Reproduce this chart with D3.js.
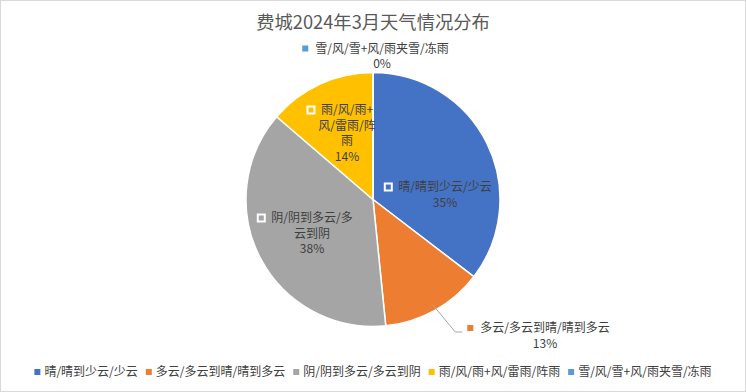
<!DOCTYPE html>
<html><head><meta charset="utf-8">
<script src="https://cdn.jsdelivr.net/npm/d3@7"></script>
<style>
html,body{margin:0;padding:0;background:#fff;}
svg{display:block;font-family:"Microsoft YaHei","Noto Sans CJK SC",sans-serif;}
</style></head>
<body>
<svg id="c" width="746" height="392"></svg>
<script>
const title = "费城2024年3月天气情况分布";
const categories = ["晴/晴到少云/少云","多云/多云到晴/晴到多云","阴/阴到多云/多云到阴","雨/风/雨+风/雷雨/阵雨","雪/风/雪+风/雨夹雪/冻雨"];
const values = [35.4, 13.0, 37.9, 13.7, 0];
const colors = ["#4472C4","#ED7D31","#A5A5A5","#FFC000","#5B9BD5"];
// label text lines (wrapped as in the original)
const labelLines = [["晴/晴到少云/少云"],["多云/多云到晴/晴到多云"],["阴/阴到多云/多","云到阴"],["雨/风/雨+","风/雷雨/阵","雨"],["雪/风/雪+风/雨夹雪/冻雨"]];

const svg = d3.select("#c");
const W = 746, H = 392;
svg.append("rect").attr("x",0.5).attr("y",0.5).attr("width",W-1).attr("height",H-1)
  .attr("fill","#fff").attr("stroke","#d9d9d9");

svg.append("text").attr("x",373).attr("y",28.5).attr("text-anchor","middle")
  .attr("font-size",18.3).attr("fill","#595959").text(title);

const cx = 373, cy = 199.5, R = 127;
const g = svg.append("g").attr("transform",`translate(${cx},${cy})`);
const pie = d3.pie().sort(null).value(d=>d)(values);
const arc = d3.arc().innerRadius(0).outerRadius(R);
g.selectAll("path").data(pie).join("path")
  .attr("d",arc).attr("fill",(d,i)=>colors[i])
  .attr("stroke","#fff").attr("stroke-width",1.5).attr("stroke-linejoin","round");

const total = d3.sum(values);
const pct = v => Math.round(v/total*100)+"%";
const fs = 12, lh = 15.5, txtColor = "#404040";

// label anchor: center of first line (relative to pie center)
const layout = [
  {x:72, y:-12.5, inside:true},
  {x:172, y:128.5, inside:false},
  {x:-61, y:18.5, inside:true},
  {x:-26, y:-89.5, inside:true},
  {x:9, y:-151, inside:false}
];

pie.forEach((d,i)=>{
  const L = layout[i];
  const lg = g.append("g");
  const lines = labelLines[i];
  lines.forEach((t,k)=>{
    lg.append("text").attr("x",L.x).attr("y",L.y + k*lh).attr("dy","0.35em")
      .attr("text-anchor","middle").attr("font-size",fs).attr("fill",txtColor).text(t);
  });
  lg.append("text").attr("x",L.x).attr("y",L.y + lines.length*lh).attr("dy","0.35em")
    .attr("text-anchor","middle").attr("font-size",fs).attr("fill",txtColor).text(pct(values[i]));
  const w0 = lg.select("text").node().getComputedTextLength();
  const mx = L.x - w0/2 - 10;
  if (L.inside) {
    lg.append("rect").attr("x",mx-3.5).attr("y",L.y-3.5).attr("width",7).attr("height",7)
      .attr("fill",colors[i]).attr("stroke","#fff").attr("stroke-width",2);
  } else {
    lg.append("rect").attr("x",mx-3).attr("y",L.y-3).attr("width",6).attr("height",6)
      .attr("fill",colors[i]);
  }
  if (i === 1) {
    const p0 = d3.arc().innerRadius(R*0.95).outerRadius(R*0.95).centroid(d);
    const ex = mx - 8;
    g.append("polyline")
      .attr("points",[[p0[0]+1,p0[1]],[ex-7,L.y+4],[ex,L.y+4]].map(p=>p.join(",")).join(" "))
      .attr("fill","none").attr("stroke","#A6A6A6").attr("stroke-width",1);
  }
});

// bottom legend
const leg = svg.append("g");
const items = leg.selectAll("g").data(categories).join("g");
items.each(function(c,i){
  const it = d3.select(this);
  it.append("rect").attr("x",0).attr("y",-3).attr("width",6).attr("height",6).attr("fill",colors[i]);
  it.append("text").attr("x",10).attr("y",0).attr("dy","0.35em").attr("font-size",fs)
    .attr("fill",txtColor).text(c);
});
const widths = [];
items.each(function(){ widths.push(this.getBBox().width); });
const gap = 8;
const totalW = d3.sum(widths) + gap*(widths.length-1);
let x0 = (W - totalW)/2;
items.attr("transform",(d,i)=>{ const t = `translate(${x0},372)`; x0 += widths[i]+gap; return t; });
</script>
</body></html>
